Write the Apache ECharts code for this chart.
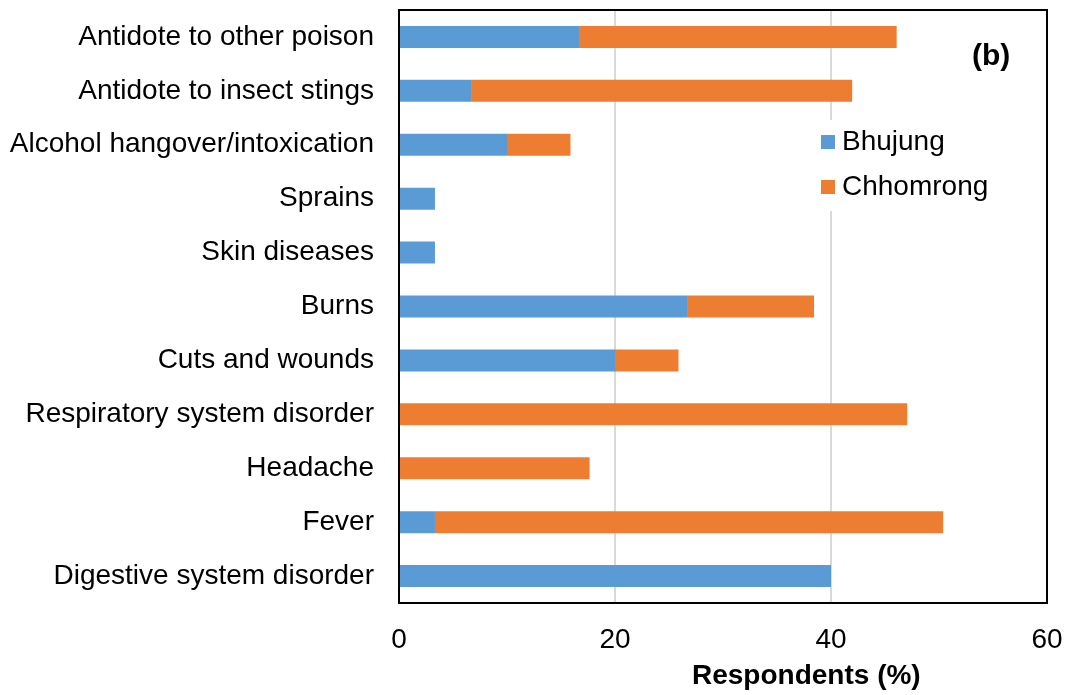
<!DOCTYPE html>
<html>
<head>
<meta charset="utf-8">
<script src="https://cdn.jsdelivr.net/npm/echarts@6/dist/echarts.min.js"></script>
<style>
  html, body { margin: 0; padding: 0; background: #fff; }
  #chart { width: 1072px; height: 695px; }
</style>
</head>
<body>
<div id="chart"></div>
<script>
// Uses of medicinal plants, listed top to bottom
const categories = [
  'Antidote to other poison',
  'Antidote to insect stings',
  'Alcohol hangover/intoxication',
  'Sprains',
  'Skin diseases',
  'Burns',
  'Cuts and wounds',
  'Respiratory system disorder',
  'Headache',
  'Fever',
  'Digestive system disorder'
];

// Share of respondents (%) in each village
const bhujung   = [16.67, 6.67, 10, 3.33, 3.33, 26.67, 20, 0, 0, 3.33, 40];
const chhomrong = [29.41, 35.29, 5.88, 0, 0, 11.76, 5.88, 47.06, 17.65, 47.06, 0];

const xTicks = { min: 0, max: 60, interval: 20 };

const FONT = 'Liberation Sans, Arial, sans-serif';
const GRID = { left: 399, top: 10, right: 25, bottom: 92 };
const W = 1072, H = 695;

const chart = echarts.init(document.getElementById('chart'), null, { renderer: 'canvas' });

chart.setOption({
  animation: false,
  backgroundColor: '#fff',
  textStyle: { fontFamily: FONT },
  grid: GRID,
  legend: {
    orient: 'vertical',
    left: 811, top: 120,
    itemWidth: 14, itemHeight: 14, itemGap: 17,
    backgroundColor: '#fff',
    padding: [8, 10, 10, 10],
    icon: 'rect',
    textStyle: { fontFamily: FONT, fontSize: 28, color: '#000', padding: [0, 0, 0, 2] },
    data: ['Bhujung', 'Chhomrong']
  },
  xAxis: {
    type: 'value',
    min: xTicks.min, max: xTicks.max, interval: xTicks.interval,
    axisLine: { show: false },
    axisTick: { show: false },
    axisLabel: { fontFamily: FONT, fontSize: 28, color: '#000', margin: 23 },
    splitLine: { show: true, lineStyle: { color: '#d9d9d9', width: 2 } }
  },
  yAxis: {
    type: 'category',
    inverse: true,
    data: categories,
    axisLine: { show: false },
    axisTick: { show: false },
    axisLabel: { fontFamily: FONT, fontSize: 28, color: '#000', margin: 25, padding: [3, 0, 0, 0] }
  },
  series: [
    {
      name: 'Bhujung', type: 'bar', stack: 'total',
      data: bhujung, barWidth: 22,
      itemStyle: { color: '#5B9BD5' }
    },
    {
      name: 'Chhomrong', type: 'bar', stack: 'total',
      data: chhomrong, barWidth: 22,
      itemStyle: { color: '#ED7D31' }
    }
  ],
  graphic: [
    {
      // plot frame drawn above the gridlines
      type: 'rect', z: 100, silent: true,
      shape: { x: GRID.left, y: GRID.top, width: W - GRID.left - GRID.right, height: H - GRID.top - GRID.bottom },
      style: { fill: 'none', stroke: '#000', lineWidth: 2 }
    },
    {
      type: 'text', left: 972, top: 42,
      style: { text: '(b)', font: 'bold 30px ' + FONT, fill: '#000' }
    },
    {
      type: 'text', left: 692, top: 662,
      style: { text: 'Respondents (%)', font: 'bold 28px ' + FONT, fill: '#000' }
    }
  ]
});
</script>
</body>
</html>
